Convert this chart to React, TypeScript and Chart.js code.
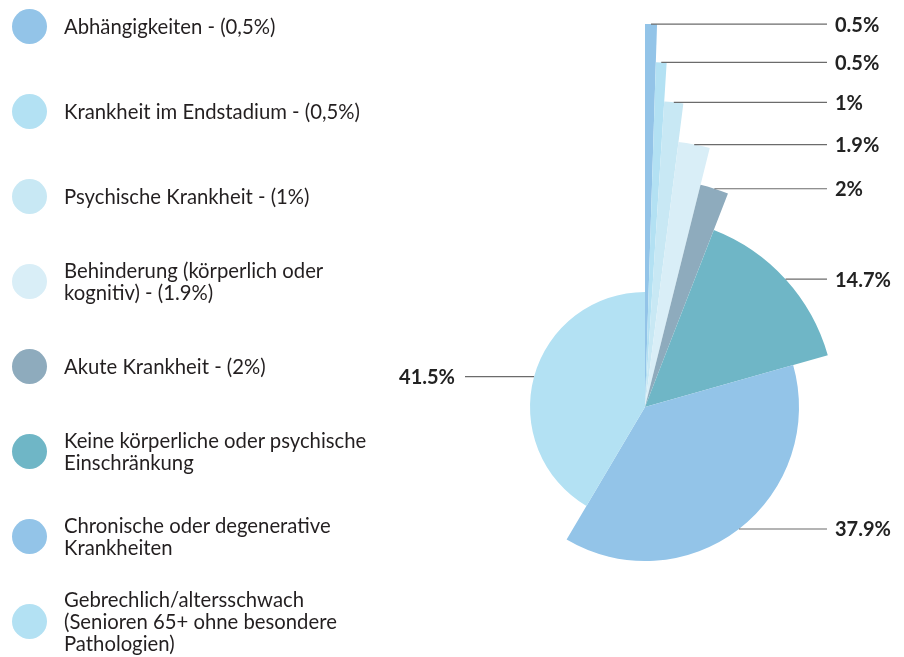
import React, { useEffect, useRef } from 'react';
import { Chart, registerables } from 'chart.js';

Chart.register(...registerables);

const legendLines: string[][] = [
  ['Abhängigkeiten - (0,5%)'],
  ['Krankheit im Endstadium - (0,5%)'],
  ['Psychische Krankheit - (1%)'],
  ['Behinderung (körperlich oder', 'kognitiv) - (1.9%)'],
  ['Akute Krankheit - (2%)'],
  ['Keine körperliche oder psychische', 'Einschränkung'],
  ['Chronische oder degenerative', 'Krankheiten'],
  ['Gebrechlich/altersschwach', '(Senioren 65+ ohne besondere', 'Pathologien)'],
];

const percentages = [0.5, 0.5, 1, 1.9, 2, 14.7, 37.9, 41.5];
const valueLabels = ['0.5%', '0.5%', '1%', '1.9%', '2%', '14.7%', '37.9%', '41.5%'];
const radii = [383, 345, 306, 267, 229, 190, 154, 115];
const colors = ['#93c4e8', '#b3e1f3', '#c8e8f4', '#d9eef7', '#8eabbd', '#6fb6c6', '#93c4e8', '#b3e1f3'];

const FONT = 'Lato, "Open Sans", sans-serif';

const sliceLabels = {
  id: 'sliceLabels',
  afterDatasetsDraw(chart: any) {
    const ctx = chart.ctx as CanvasRenderingContext2D;
    const meta = chart.getDatasetMeta(0);
    ctx.save();
    meta.data.forEach((arc: any, i: number) => {
      const p = arc.getProps(['x', 'y', 'startAngle', 'endAngle', 'outerRadius'], true);
      const mid = (p.startAngle + p.endAngle) / 2;
      const px = p.x + Math.cos(mid) * p.outerRadius;
      const py = p.y + Math.sin(mid) * p.outerRadius;
      const right = px >= p.x;
      const lineEnd = right ? p.x + 182 : p.x - 180;
      ctx.beginPath();
      ctx.strokeStyle = '#6b6b6b';
      ctx.lineWidth = 1.2;
      ctx.moveTo(px, py);
      ctx.lineTo(lineEnd, py);
      ctx.stroke();
      ctx.font = 'bold 20px ' + FONT;
      ctx.fillStyle = '#222222';
      ctx.textBaseline = 'middle';
      ctx.textAlign = right ? 'left' : 'right';
      ctx.fillText(valueLabels[i], right ? lineEnd + 8 : lineEnd - 10, py + 1);
    });
    ctx.restore();
  },
};

export default function App() {
  const canvasRef = useRef<HTMLCanvasElement | null>(null);

  useEffect(() => {
    if (!canvasRef.current) return;
    const chart = new Chart(canvasRef.current, {
      type: 'polarArea',
      data: {
        labels: legendLines.map((l) => l.join(' ')),
        datasets: [
          {
            data: radii,
            backgroundColor: colors,
            borderWidth: 0,
            angle: (c: any) => percentages[c.dataIndex] * 3.6,
            clip: false,
          } as any,
        ],
      },
      options: {
        responsive: false,
        animation: false,
        layout: { padding: { left: 395, right: 9, top: 157, bottom: 0 } },
        scales: {
          r: { display: false, min: 0, max: 250 },
        },
        plugins: {
          legend: { display: false },
          tooltip: { enabled: false },
        },
      } as any,
      plugins: [sliceLabels],
    });
    return () => chart.destroy();
  }, []);

  return (
    <div style={{ position: 'absolute', left: 0, top: 0, width: 904, height: 657, overflow: 'hidden', background: '#fff' }}>
      <canvas ref={canvasRef} width={904} height={657} style={{ position: 'absolute', left: 0, top: 0 }} />
      {legendLines.map((lines, i) => (
        <div
          key={i}
          style={{
            position: 'absolute',
            left: 0,
            top: 26 + i * 85 - 40,
            height: 80,
            display: 'flex',
            alignItems: 'center',
          }}
        >
          <div
            style={{
              position: 'absolute',
              left: 11.5,
              top: 22.5,
              width: 35,
              height: 35,
              borderRadius: '50%',
              background: colors[i],
            }}
          />
          <div
            style={{
              marginLeft: 64,
              fontFamily: FONT,
              fontSize: 20.3,
              lineHeight: '22px',
              color: '#231f20',
              whiteSpace: 'nowrap',
            }}
          >
            {lines.map((t, j) => (
              <div key={j}>{t}</div>
            ))}
          </div>
        </div>
      ))}
    </div>
  );
}
